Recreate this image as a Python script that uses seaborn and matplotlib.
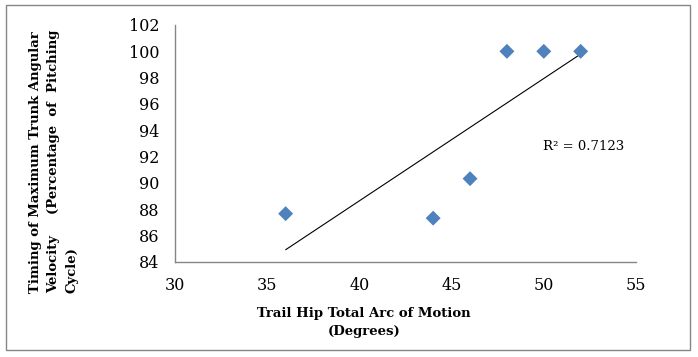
#Scatter of trail hip arc vs timing of max trunk angular velocity, with linear trendline
import pandas as pd
import numpy as np
from matplotlib import pyplot as plt
from matplotlib.patches import Rectangle
import seaborn as sns

#data
hip_arc = [36, 44, 46, 48, 50, 52]
trunk_timing = [87.67, 87.33, 90.33, 100, 100, 100]
x_ticks = [30, 35, 40, 45, 50, 55]
y_ticks = [84, 86, 88, 90, 92, 94, 96, 98, 100, 102]
r2_label = 'R² = 0.7123'

df = pd.DataFrame({'arc': hip_arc, 'timing': trunk_timing})

sns.set_style('white')
plt.rcParams['font.family'] = ['DejaVu Serif']
plt.rcParams['text.color'] = 'black'
gray = '#868686'

fig = plt.figure(figsize=(6.98, 3.57), dpi=100)
ax = fig.add_axes([175/698, 95/357, 461/698, 237/357])

sns.scatterplot(data=df, x='arc', y='timing', marker='D', s=58, color='#4F81BD',
                edgecolor='none', ax=ax, zorder=3)
sns.regplot(data=df, x='arc', y='timing', scatter=False, ci=None, truncate=True,
            line_kws={'color': 'black', 'lw': 0.8}, ax=ax)

ax.set_xlim(30, 55)
ax.set_ylim(84, 102)
ax.set_xticks(x_ticks)
ax.set_yticks(y_ticks)
ax.set(xlabel='', ylabel='')
sns.despine(ax=ax)
for s in ['left', 'bottom']:
    ax.spines[s].set_color(gray)
    ax.spines[s].set_linewidth(1)
ax.tick_params(axis='both', direction='out', length=4.5, width=1, color=gray,
               labelsize=11.5, labelcolor='black')
ax.tick_params(axis='y', pad=7)
ax.tick_params(axis='x', pad=6)

fig.text(543/698, (357-147)/357, r2_label, fontsize=9.5, ha='left', va='center')

#axis titles (bold, placed like the original)
fig.text(364/698, (357-313)/357, 'Trail Hip Total Arc of Motion', fontsize=9.5,
         fontweight='bold', ha='center', va='center')
fig.text(364/698, (357-332)/357, '(Degrees)', fontsize=9.5,
         fontweight='bold', ha='center', va='center')

ybot = (357-293)/357
ytop = (357-30)/357
fig.text(36/698, ybot, 'Timing of Maximum Trunk Angular', fontsize=9.5, fontweight='bold',
         rotation=90, ha='center', va='bottom')
fig.text(54/698, ybot, 'Velocity', fontsize=9.5, fontweight='bold',
         rotation=90, ha='center', va='bottom')
fig.text(54/698, ytop, '(Percentage  of  Pitching', fontsize=9.5, fontweight='bold',
         rotation=90, ha='center', va='top')
fig.text(72/698, ybot, 'Cycle)', fontsize=9.5, fontweight='bold',
         rotation=90, ha='center', va='bottom')

#chart border
fig.patches.append(Rectangle((6/698, 7/357), 684/698, 345/357, transform=fig.transFigure,
                             fill=False, edgecolor=gray, lw=1))

fig.savefig('out.png', dpi=100)
